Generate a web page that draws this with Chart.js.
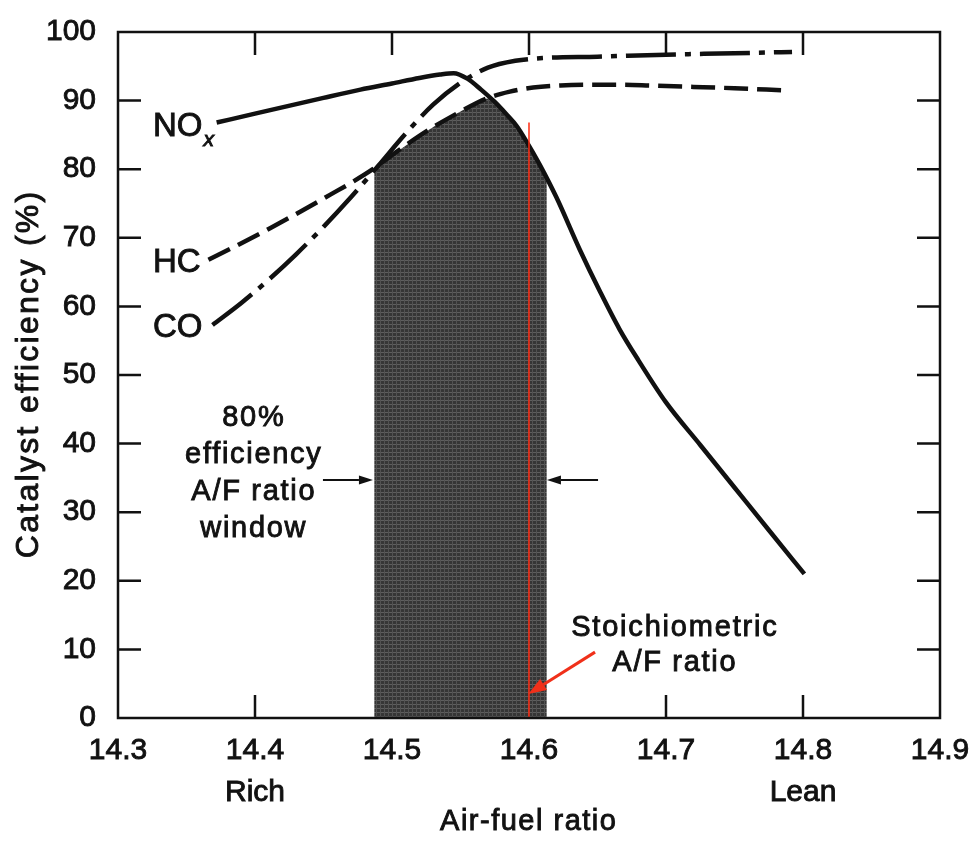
<!DOCTYPE html>
<html>
<head>
<meta charset="utf-8">
<title>Catalyst efficiency vs air-fuel ratio</title>
<script src="https://cdn.jsdelivr.net/npm/chart.js@4.4.1/dist/chart.umd.min.js"></script>
<style>
  html, body { margin: 0; padding: 0; background: #fff; }
  #wrap { width: 977px; height: 843px; }
</style>
</head>
<body>
<div id="wrap"><canvas id="afChart"></canvas></div>
<script>
// tick labels and axis titles
const xTickLabels = ['14.3', '14.4', '14.5', '14.6', '14.7', '14.8', '14.9'];
const xTickNotes = ['', 'Rich', '', '', '', 'Lean', ''];
const xTitle = 'Air-fuel ratio';
const yTitle = 'Catalyst efficiency (%)';

// NOx (solid)
const noxAF = [14.372, 14.40, 14.45, 14.477, 14.50, 14.52, 14.535, 14.545, 14.555, 14.565,
  14.575, 14.584, 14.591, 14.598, 14.608, 14.62, 14.637, 14.652, 14.666, 14.68,
  14.70, 14.725, 14.75, 14.775, 14.801];
const noxEff = [86.8, 88.1, 90.4, 91.6, 92.5, 93.3, 93.8, 94.0, 93.2, 91.6,
  89.8, 87.9, 86.3, 84.1, 80.6, 75.9, 68.3, 62.1, 56.7, 52.1,
  46.0, 39.8, 33.6, 27.4, 21.0];

// HC (dashed)
const hcAF = [14.366, 14.389, 14.411, 14.433, 14.455, 14.47, 14.486, 14.501, 14.525, 14.55,
  14.569, 14.586, 14.603, 14.623, 14.647, 14.666, 14.688, 14.72, 14.75, 14.785];
const hcEff = [66.8, 69.1, 71.4, 73.8, 76.3, 78.0, 80.0, 82.2, 85.5, 88.4,
  90.3, 91.3, 91.9, 92.2, 92.3, 92.3, 92.2, 92.0, 91.8, 91.5];

// CO (dash-dot)
const coAF = [14.369, 14.39, 14.41, 14.43, 14.45, 14.47, 14.49, 14.51, 14.53, 14.55,
  14.57, 14.59, 14.61, 14.65, 14.70, 14.75, 14.792];
const coEff = [57.3, 60.5, 63.9, 67.6, 71.6, 75.9, 80.5, 85.2, 89.4, 92.6,
  94.8, 95.8, 96.2, 96.4, 96.7, 96.9, 97.1];

// 80% efficiency window (top edge of the shaded area)
const windowAF = [14.487, 14.50, 14.525, 14.55, 14.571, 14.575, 14.584, 14.591, 14.598, 14.608, 14.613];
const windowEff = [80.1, 82.0, 85.5, 88.4, 90.3, 89.8, 87.9, 86.3, 84.1, 80.6, 78.5];

// stoichiometric A/F ratio
const stoichAF = 14.6;
const stoichTop = 86.8;

const FONT = '"Liberation Sans", Arial, Helvetica, sans-serif';
const INK = '#111';

function toPoints(xs, ys) {
  return xs.map((x, i) => ({ x: x, y: ys[i] }));
}

function makePattern() {
  const c = document.createElement('canvas');
  c.width = 4; c.height = 4;
  const g = c.getContext('2d');
  g.fillStyle = '#363636';
  g.fillRect(0, 0, 4, 4);
  g.fillStyle = '#5e5e5e';
  g.fillRect(0, 0, 4, 1);
  g.fillStyle = '#525252';
  g.fillRect(0, 0, 1, 4);
  return g.createPattern(c, 'repeat');
}

// text with a light stroke so it reads as heavy as the scanned original
function text(ctx, s, x, y, size, spacing, align, style) {
  ctx.font = (style ? style + ' ' : '') + size + 'px ' + FONT;
  ctx.letterSpacing = spacing + 'px';
  ctx.textAlign = align;
  const px = x + (align === 'center' ? spacing / 2 : 0);
  ctx.lineWidth = 0.9;
  ctx.strokeStyle = INK;
  ctx.strokeText(s, px, y);
  ctx.fillText(s, px, y);
  ctx.letterSpacing = '0px';
}

function arrow(ctx, x1, y1, x2, y2, color, lw, headLen, headW) {
  const ang = Math.atan2(y2 - y1, x2 - x1);
  const bx = x2 - Math.cos(ang) * headLen;
  const by = y2 - Math.sin(ang) * headLen;
  ctx.save();
  ctx.strokeStyle = color;
  ctx.fillStyle = color;
  ctx.lineWidth = lw;
  ctx.beginPath();
  ctx.moveTo(x1, y1);
  ctx.lineTo(bx, by);
  ctx.stroke();
  ctx.beginPath();
  ctx.moveTo(x2, y2);
  ctx.lineTo(bx + Math.sin(ang) * headW / 2, by - Math.cos(ang) * headW / 2);
  ctx.lineTo(bx - Math.sin(ang) * headW / 2, by + Math.cos(ang) * headW / 2);
  ctx.closePath();
  ctx.fill();
  ctx.restore();
}

// inner ticks, frame, axis titles and annotations
const framePlugin = {
  id: 'framePlugin',
  beforeDatasetsDraw(chart) {
    const { ctx, chartArea: a, scales: { x, y } } = chart;
    const len = 23;
    ctx.save();
    ctx.strokeStyle = INK;
    ctx.lineWidth = 2.5;
    ctx.beginPath();
    x.ticks.forEach(t => {
      if (t.value <= x.min + 1e-6 || t.value >= x.max - 1e-6) return;
      const px = x.getPixelForValue(t.value);
      ctx.moveTo(px, a.top); ctx.lineTo(px, a.top + len);
      ctx.moveTo(px, a.bottom); ctx.lineTo(px, a.bottom - len);
    });
    y.ticks.forEach(t => {
      if (t.value <= y.min || t.value >= y.max) return;
      const py = y.getPixelForValue(t.value);
      ctx.moveTo(a.left, py); ctx.lineTo(a.left + len, py);
      ctx.moveTo(a.right, py); ctx.lineTo(a.right - len, py);
    });
    ctx.stroke();
    ctx.restore();
  },
  afterDatasetsDraw(chart) {
    const { ctx, chartArea: a, scales: { x, y } } = chart;
    ctx.save();
    ctx.strokeStyle = INK;
    ctx.lineWidth = 2.5;
    ctx.strokeRect(a.left, a.top, a.right - a.left, a.bottom - a.top);

    ctx.fillStyle = INK;
    ctx.textBaseline = 'middle';

    // axis titles
    text(ctx, xTitle, (a.left + a.right) / 2 - 1, 822, 29, 1.5, 'center');
    ctx.save();
    ctx.translate(29, (a.top + a.bottom) / 2);
    ctx.rotate(-Math.PI / 2);
    text(ctx, yTitle, 0, 0, 32, 2.3, 'center');
    ctx.restore();

    // curve labels
    const lx = x.getPixelForValue(14.3255);
    const noY = y.getPixelForValue(86.2);
    text(ctx, 'NO', lx, noY, 33, 0, 'left');
    const noW = ctx.measureText('NO').width;
    text(ctx, 'x', lx + noW + 1, noY + 13, 21, 0, 'left', 'italic');
    text(ctx, 'HC', lx, y.getPixelForValue(66.3), 33, 0, 'left');
    text(ctx, 'CO', lx, y.getPixelForValue(56.8), 33, 0, 'left');

    // window text
    const wx = x.getPixelForValue(14.3985);
    const wy = y.getPixelForValue(43.8);
    ['80%', 'efficiency', 'A/F ratio', 'window'].forEach((s, i) => {
      text(ctx, s, wx, wy + i * 37, 29, 1.7, 'center');
    });

    // stoichiometric text
    const sx = x.getPixelForValue(14.7058);
    text(ctx, 'Stoichiometric', sx, y.getPixelForValue(13.1), 29, 1.8, 'center');
    text(ctx, 'A/F ratio', sx, y.getPixelForValue(7.96), 29, 1.7, 'center');

    // window arrows
    const ay = y.getPixelForValue(34.7);
    arrow(ctx, x.getPixelForValue(14.4496), ay, x.getPixelForValue(14.4861), ay, INK, 2, 14, 9);
    arrow(ctx, x.getPixelForValue(14.6504), ay, x.getPixelForValue(14.6131), ay, INK, 2, 14, 9);

    // stoichiometric arrow
    arrow(ctx, x.getPixelForValue(14.6482), y.getPixelForValue(9.6),
      x.getPixelForValue(14.5995), y.getPixelForValue(3.5), '#f0301a', 3, 18, 13);
    ctx.restore();
  }
};

const ctx = document.getElementById('afChart').getContext('2d');
const afChart = new Chart(ctx, {
  type: 'line',
  data: {
    datasets: [
      {
        label: 'NOx',
        data: toPoints(noxAF, noxEff),
        borderColor: INK,
        borderWidth: 4.5,
        cubicInterpolationMode: 'monotone',
        pointRadius: 0,
        fill: false,
        order: 1
      },
      {
        label: 'HC',
        data: toPoints(hcAF, hcEff),
        borderColor: INK,
        borderWidth: 4.5,
        borderDash: [24, 9],
        cubicInterpolationMode: 'monotone',
        pointRadius: 0,
        fill: false,
        order: 2
      },
      {
        label: 'CO',
        data: toPoints(coAF, coEff),
        borderColor: INK,
        borderWidth: 4.5,
        borderDash: [50, 9, 6, 9],
        cubicInterpolationMode: 'monotone',
        pointRadius: 0,
        fill: false,
        order: 3
      },
      {
        label: 'Stoichiometric',
        data: [{ x: stoichAF, y: 0 }, { x: stoichAF, y: stoichTop }],
        borderColor: '#ff2a10',
        borderWidth: 1.5,
        pointRadius: 0,
        fill: false,
        order: 0
      },
      {
        label: '80% window',
        data: toPoints(windowAF, windowEff),
        borderWidth: 0,
        borderColor: 'rgba(0,0,0,0)',
        backgroundColor: makePattern(),
        cubicInterpolationMode: 'monotone',
        pointRadius: 0,
        fill: 'origin',
        order: 10
      }
    ]
  },
  options: {
    responsive: true,
    maintainAspectRatio: false,
    animation: false,
    layout: { padding: { top: 27, right: 37, left: 0, bottom: 0 } },
    plugins: {
      legend: { display: false },
      tooltip: { enabled: false }
    },
    scales: {
      x: {
        type: 'linear',
        min: 14.3,
        max: 14.9,
        afterFit: s => { s.height = 125; },
        grid: { display: false },
        border: { display: false },
        ticks: {
          stepSize: 0.1,
          padding: 4,
          color: INK,
          textStrokeColor: INK,
          textStrokeWidth: 0.9,
          font: { size: 30, family: FONT, lineHeight: 1.4 },
          maxRotation: 0,
          callback: (value, index) => {
            const note = xTickNotes[index];
            return note ? [xTickLabels[index], note] : xTickLabels[index];
          }
        }
      },
      y: {
        min: 0,
        max: 100,
        afterFit: s => { s.width = 118; },
        grid: { display: false },
        border: { display: false },
        ticks: {
          stepSize: 10,
          padding: 14,
          color: INK,
          textStrokeColor: INK,
          textStrokeWidth: 0.9,
          font: { size: 30, family: FONT }
        }
      }
    }
  },
  plugins: [framePlugin]
});
</script>
</body>
</html>
